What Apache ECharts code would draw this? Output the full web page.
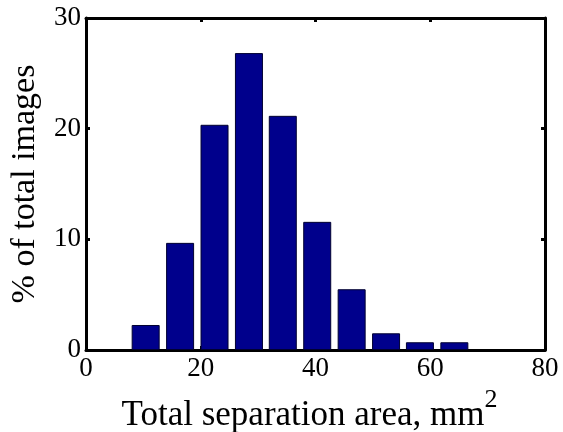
<!DOCTYPE html>
<html>
<head>
<meta charset="utf-8">
<script src="https://cdn.jsdelivr.net/npm/echarts@6/dist/echarts.min.js"></script>
<style>html,body{margin:0;padding:0;background:#fff}#c{width:563px;height:432px}</style>
</head>
<body>
<div id="c"></div>
<script>
const binCenters = [10.4, 16.4, 22.4, 28.4, 34.3, 40.3, 46.3, 52.3, 58.2, 64.2];
const percentValues = [2.26, 9.68, 20.35, 26.83, 21.16, 11.58, 5.49, 1.51, 0.70, 0.70];
const xTicks = [0, 20, 40, 60, 80];
const yTicks = [0, 10, 20, 30];

const font = '"Liberation Serif", "Times New Roman", serif';
const chart = echarts.init(document.getElementById('c'), null, {renderer: 'canvas'});
const axisLine = {show: true, onZero: false, lineStyle: {color: '#000', width: 3}};
const tick = {show: true, inside: true, length: 4, lineStyle: {color: '#000', width: 3}};
chart.setOption({
  animation: false,
  backgroundColor: '#fff',
  grid: {left: 86, right: 18, top: 18, bottom: 82, containLabel: false, outerBoundsMode: 'none'},
  xAxis: [{
    type: 'value', min: xTicks[0], max: xTicks[xTicks.length - 1], interval: 20,
    axisLine: axisLine, axisTick: tick, splitLine: {show: false},
    axisLabel: {color: '#000', fontFamily: font, fontSize: 27, margin: 5},
    name: '{t|Total separation area, mm}{s|2}',
    nameLocation: 'middle', nameGap: 35,
    nameTextStyle: {
      padding: [0, 12, 0, 0],
      rich: {
        t: {fontFamily: font, fontSize: 35, color: '#000', verticalAlign: 'bottom', lineHeight: 46},
        s: {fontFamily: font, fontSize: 26, color: '#000', verticalAlign: 'top', lineHeight: 24}
      }
    }
  }, {
    type: 'value', position: 'top', min: 0, max: 80, interval: 20,
    axisLine: axisLine, axisTick: tick, axisLabel: {show: false}, splitLine: {show: false}
  }],
  yAxis: [{
    type: 'value', min: yTicks[0], max: yTicks[yTicks.length - 1], interval: 10,
    axisLine: axisLine, axisTick: tick, splitLine: {show: false},
    axisLabel: {color: '#000', fontFamily: font, fontSize: 27, margin: 5},
    name: '% of total images', nameLocation: 'middle', nameGap: 44, nameRotate: 90,
    nameTextStyle: {fontFamily: font, fontSize: 34, color: '#000'}
  }, {
    type: 'value', position: 'right', min: 0, max: 30, interval: 10,
    axisLine: axisLine, axisTick: tick, axisLabel: {show: false}, splitLine: {show: false}
  }],
  series: [{
    type: 'bar',
    xAxisIndex: 0, yAxisIndex: 0,
    data: binCenters.map((c, i) => [c, percentValues[i]]),
    barWidth: 28,
    itemStyle: {color: '#00008C', borderColor: '#000030', borderWidth: 1}
  }]
});
</script>
</body>
</html>
